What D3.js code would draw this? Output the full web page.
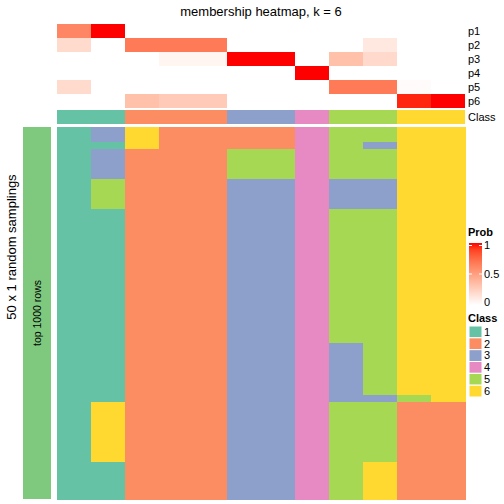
<!DOCTYPE html>
<html><head><meta charset="utf-8">
<script src="https://cdn.jsdelivr.net/npm/d3@7"></script>
<style>body{margin:0;background:#fff}svg{display:block}text{font-family:"Liberation Sans",Arial,Helvetica,sans-serif;fill:#000}</style>
</head><body><div id="chart"></div>
<script>
// ---- data ----
const columns = d3.range(12);
const probNames = ["p1","p2","p3","p4","p5","p6"];
const p1 = [0.62,1.00,0,0,0,0,0,0,0,0,0,0];
const p2 = [0.19,0,0.67,0.67,0.67,0,0,0,0,0.12,0,0];
const p3 = [0,0,0,0.05,0.05,1.00,1.00,0,0.33,0.20,0,0];
const p4 = [0,0,0,0,0,0,0,1.00,0,0,0,0];
const p5 = [0.19,0,0,0,0,0,0,0,0.67,0.67,0.02,0];
const p6 = [0,0,0.33,0.28,0.28,0,0,0,0,0,0.96,1.00];
const classRow = [1,1,2,2,2,3,3,4,5,5,6,6];
const classes = [1,2,3,4,5,6];
const classColors = ["#66c2a5","#fc8d62","#8da0cb","#e78ac3","#a6d854","#ffd92f"];
const probTicks = [0,0.5,1];
const title = "membership heatmap, k = 6";
const rowTitle = "50 x 1 random samplings";
const rowGroup = "top 1000 rows";
const membership = [
[1,3,6,2,2,2,2,4,5,5,6,6],
[1,3,6,2,2,2,2,4,5,5,6,6],
[1,1,6,2,2,2,2,4,5,3,6,6],
[1,3,2,2,2,5,5,4,5,5,6,6],
[1,3,2,2,2,5,5,4,5,5,6,6],
[1,3,2,2,2,5,5,4,5,5,6,6],
[1,3,2,2,2,5,5,4,5,5,6,6],
[1,5,2,2,2,3,3,4,3,3,6,6],
[1,5,2,2,2,3,3,4,3,3,6,6],
[1,5,2,2,2,3,3,4,3,3,6,6],
[1,5,2,2,2,3,3,4,3,3,6,6],
[1,1,2,2,2,3,3,4,5,5,6,6],
[1,1,2,2,2,3,3,4,5,5,6,6],
[1,1,2,2,2,3,3,4,5,5,6,6],
[1,1,2,2,2,3,3,4,5,5,6,6],
[1,1,2,2,2,3,3,4,5,5,6,6],
[1,1,2,2,2,3,3,4,5,5,6,6],
[1,1,2,2,2,3,3,4,5,5,6,6],
[1,1,2,2,2,3,3,4,5,5,6,6],
[1,1,2,2,2,3,3,4,5,5,6,6],
[1,1,2,2,2,3,3,4,5,5,6,6],
[1,1,2,2,2,3,3,4,5,5,6,6],
[1,1,2,2,2,3,3,4,5,5,6,6],
[1,1,2,2,2,3,3,4,5,5,6,6],
[1,1,2,2,2,3,3,4,5,5,6,6],
[1,1,2,2,2,3,3,4,5,5,6,6],
[1,1,2,2,2,3,3,4,5,5,6,6],
[1,1,2,2,2,3,3,4,5,5,6,6],
[1,1,2,2,2,3,3,4,5,5,6,6],
[1,1,2,2,2,3,3,4,3,5,6,6],
[1,1,2,2,2,3,3,4,3,5,6,6],
[1,1,2,2,2,3,3,4,3,5,6,6],
[1,1,2,2,2,3,3,4,3,5,6,6],
[1,1,2,2,2,3,3,4,3,5,6,6],
[1,1,2,2,2,3,3,4,3,5,6,6],
[1,1,2,2,2,3,3,4,3,5,6,6],
[1,1,2,2,2,3,3,4,3,3,5,6],
[1,6,2,2,2,3,3,4,5,5,2,2],
[1,6,2,2,2,3,3,4,5,5,2,2],
[1,6,2,2,2,3,3,4,5,5,2,2],
[1,6,2,2,2,3,3,4,5,5,2,2],
[1,6,2,2,2,3,3,4,5,5,2,2],
[1,6,2,2,2,3,3,4,5,5,2,2],
[1,6,2,2,2,3,3,4,5,5,2,2],
[1,6,2,2,2,3,3,4,5,5,2,2],
[1,1,2,2,2,3,3,4,5,6,2,2],
[1,1,2,2,2,3,3,4,5,6,2,2],
[1,1,2,2,2,3,3,4,5,6,2,2],
[1,1,2,2,2,3,3,4,5,6,2,2],
[1,1,2,2,2,3,3,4,5,6,2,2]
];
// ---- chart ----
const probs = [p1,p2,p3,p4,p5,p6];
const W = 504, H = 504;
const svg = d3.select("#chart").append("svg").attr("width",W).attr("height",H);
const x = d3.scaleBand().domain(columns).range([57,465]);
const yP = d3.scaleBand().domain(probNames).range([24,108]);
const yC = d3.scaleBand().domain(["Class"]).range([110,124]);
const yR = d3.scaleBand().domain(d3.range(membership.length)).range([127,499]);
const probColor = d3.scaleLinear().domain([0,1]).range(["#ffffff","#ff0000"]).interpolate(d3.interpolateLab);
const classColor = d3.scaleOrdinal().domain(classes).range(classColors);

// title
svg.append("text").attr("x",261).attr("y",16).attr("text-anchor","middle").attr("font-size",13).text(title);

// probability rows
const pg = svg.append("g");
probNames.forEach((name,i)=>{
  pg.selectAll(null).data(probs[i]).join("rect")
    .attr("x",(d,j)=>x(j)).attr("y",yP(name)).attr("width",x.bandwidth()).attr("height",yP.bandwidth())
    .attr("fill",d=>probColor(d)).attr("shape-rendering","crispEdges");
  svg.append("text").attr("x",468).attr("y",yP(name)+yP.bandwidth()/2).attr("dy","0.35em").attr("font-size",11).text(name);
});
// class row
svg.append("g").selectAll("rect").data(classRow).join("rect")
  .attr("x",(d,j)=>x(j)).attr("y",yC("Class")).attr("width",x.bandwidth()).attr("height",yC.bandwidth())
  .attr("fill",d=>classColor(d)).attr("shape-rendering","crispEdges");
svg.append("text").attr("x",468).attr("y",yC("Class")+yC.bandwidth()/2).attr("dy","0.35em").attr("font-size",11).text("Class");

// main heatmap
const mg = svg.append("g");
membership.forEach((row,r)=>{
  mg.selectAll(null).data(row).join("rect")
    .attr("x",(d,j)=>x(j)).attr("y",yR(r)).attr("width",x.bandwidth()+0.5).attr("height",yR.bandwidth()+0.5)
    .attr("fill",d=>classColor(d)).attr("shape-rendering","crispEdges");
});

// left group bar
const [r0,r1] = yR.range();
svg.append("rect").attr("x",23).attr("y",r0).attr("width",28).attr("height",r1-r0).attr("fill","#7fc97f");
svg.append("text").attr("transform",`translate(40.5,${(r0+r1)/2}) rotate(-90)`).attr("text-anchor","middle").attr("font-size",10.5).text(rowGroup);
svg.append("text").attr("transform",`translate(16,247) rotate(-90)`).attr("text-anchor","middle").attr("font-size",13).text(rowTitle);

// Prob legend
svg.append("text").attr("x",468).attr("y",232).attr("dy","0.35em").attr("font-size",11).attr("font-weight","bold").text("Prob");
const defs = svg.append("defs");
const grad = defs.append("linearGradient").attr("id","pg").attr("x1",0).attr("y1",1).attr("x2",0).attr("y2",0);
d3.range(0,1.0001,0.1).forEach(t=>grad.append("stop").attr("offset",t).attr("stop-color",probColor(t)));
const yL = d3.scaleLinear().domain([0,1]).range([302.5,245.5]);
svg.append("rect").attr("x",469).attr("y",243).attr("width",13).attr("height",62).attr("fill","url(#pg)");
svg.selectAll(".ptick").data(probTicks.filter(t=>t>0)).join("line")
  .attr("x1",469).attr("x2",472).attr("y1",d=>yL(d)).attr("y2",d=>yL(d)).attr("stroke","#fff").attr("stroke-width",1);
svg.selectAll(".ptick2").data(probTicks.filter(t=>t>0)).join("line")
  .attr("x1",479).attr("x2",482).attr("y1",d=>yL(d)).attr("y2",d=>yL(d)).attr("stroke","#fff").attr("stroke-width",1);
svg.selectAll(".plab").data(probTicks).join("text")
  .attr("x",484).attr("y",d=>yL(d)).attr("dy","0.35em").attr("font-size",11).text(d=>d);

// Class legend
svg.append("text").attr("x",468).attr("y",318).attr("dy","0.35em").attr("font-size",11).attr("font-weight","bold").text("Class");
const yK = d3.scaleBand().domain(classes).range([326,397]);
svg.selectAll(".ksw").data(classes).join("rect")
  .attr("x",469).attr("y",d=>yK(d)).attr("width",13).attr("height",yK.bandwidth())
  .attr("fill",d=>classColor(d)).attr("stroke","#fff").attr("stroke-width",1);
svg.selectAll(".klab").data(classes).join("text")
  .attr("x",484).attr("y",d=>yK(d)+yK.bandwidth()/2).attr("dy","0.35em").attr("font-size",11).text(d=>d);
</script></body></html>
